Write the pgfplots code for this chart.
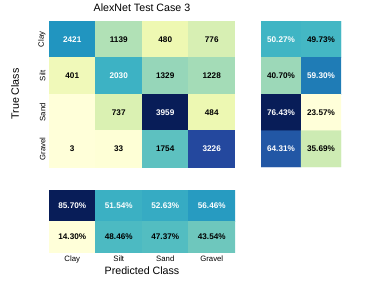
\documentclass[border=0pt]{standalone}
\usepackage{pgfplots}
\pgfplotsset{compat=1.18}
\usepackage{fontspec}
\setmainfont{Liberation Sans}
\pgfplotsset{
  colormap={ylgnbu}{rgb255=(255,255,217) rgb255=(237,248,177) rgb255=(199,233,180) rgb255=(127,205,187) rgb255=(65,182,196) rgb255=(29,145,192) rgb255=(34,94,168) rgb255=(37,52,148) rgb255=(8,29,88)},
  hm/.style={scale only axis, colormap name=ylgnbu, y dir=reverse, enlargelimits=false,
    axis line style={draw=none}, major tick length=0pt, tick style={draw=none},
    ticklabel style={font=\fontsize{7.8}{8.5}\selectfont},
    label style={font=\fontsize{10.7}{12}\selectfont},
    title style={font=\fontsize{10.7}{12}\selectfont}},
  wt/.style={only marks, mark=none, point meta=explicit symbolic, nodes near coords,
    nodes near coords style={anchor=center, font=\fontsize{8.2}{9}\selectfont\bfseries, text=white}},
  bt/.style={only marks, mark=none, point meta=explicit symbolic, nodes near coords,
    nodes near coords style={anchor=center, font=\fontsize{8.2}{9}\selectfont\bfseries, text=black}},
}
\begin{document}
\begin{tikzpicture}
\useasboundingbox (0,0) rectangle (377bp,283bp);
% main confusion matrix
\begin{axis}[hm, at={(49bp,116bp)}, anchor=south west, width=186bp, height=146bp,
  xmin=-0.5, xmax=3.5, ymin=-0.5, ymax=3.5,
  point meta min=0, point meta max=3959,
  xtick=\empty, ytick={0,1,2,3}, yticklabels={Clay,Silt,Sand,Gravel},
  yticklabel style={rotate=90, anchor=south},
  title={AlexNet Test Case 3},
  ylabel={True Class},
  ylabel style={at={(axis description cs:-0.183,0.5)}, anchor=center, rotate=0}]
\addplot[matrix plot*, mesh/cols=4, point meta=explicit] coordinates {
  (0,0) [2421] (1,0) [1139] (2,0) [480] (3,0) [776]
  (0,1) [401]  (1,1) [2030] (2,1) [1329] (3,1) [1228]
  (0,2) [0]    (1,2) [737]  (2,2) [3959] (3,2) [484]
  (0,3) [3]    (1,3) [33]   (2,3) [1754] (3,3) [3226]
};
\addplot[wt] coordinates {(0,0) [2421] (1,1) [2030] (2,2) [3959] (3,3) [3226]};
\addplot[bt] coordinates {(1,0) [1139] (2,0) [480] (3,0) [776]
  (0,1) [401] (2,1) [1329] (3,1) [1228]
  (1,2) [737] (3,2) [484]
  (0,3) [3] (1,3) [33] (2,3) [1754]};
\end{axis}
% row percentages
\begin{axis}[hm, at={(261bp,116bp)}, anchor=south west, width=80bp, height=146bp,
  xmin=-0.5, xmax=1.5, ymin=-0.5, ymax=3.5,
  point meta min=23.57, point meta max=76.43,
  xtick=\empty, ytick=\empty]
\addplot[matrix plot*, mesh/cols=2, point meta=explicit] coordinates {
  (0,0) [50.27] (1,0) [49.73]
  (0,1) [40.70] (1,1) [59.30]
  (0,2) [76.43] (1,2) [23.57]
  (0,3) [64.31] (1,3) [35.69]
};
\addplot[wt] coordinates {(0,0) [50.27\%] (1,1) [59.30\%] (0,2) [76.43\%] (0,3) [64.31\%]};
\addplot[bt] coordinates {(1,0) [49.73\%] (0,1) [40.70\%] (1,2) [23.57\%] (1,3) [35.69\%]};
\end{axis}
% column percentages
\begin{axis}[hm, at={(49bp,31bp)}, anchor=south west, width=186bp, height=62bp,
  xmin=-0.5, xmax=3.5, ymin=-0.5, ymax=1.5,
  point meta min=14.30, point meta max=85.70,
  xtick={0,1,2,3}, xticklabels={Clay,Silt,Sand,Gravel}, ytick=\empty,
  xlabel={Predicted Class},
  xlabel style={at={(axis description cs:0.5,-0.306)}, anchor=center}]
\addplot[matrix plot*, mesh/cols=4, point meta=explicit] coordinates {
  (0,0) [85.70] (1,0) [51.54] (2,0) [52.63] (3,0) [56.46]
  (0,1) [14.30] (1,1) [48.46] (2,1) [47.37] (3,1) [43.54]
};
\addplot[wt] coordinates {(0,0) [85.70\%] (1,0) [51.54\%] (2,0) [52.63\%] (3,0) [56.46\%]};
\addplot[bt] coordinates {(0,1) [14.30\%] (1,1) [48.46\%] (2,1) [47.37\%] (3,1) [43.54\%]};
\end{axis}
\end{tikzpicture}
\end{document}
